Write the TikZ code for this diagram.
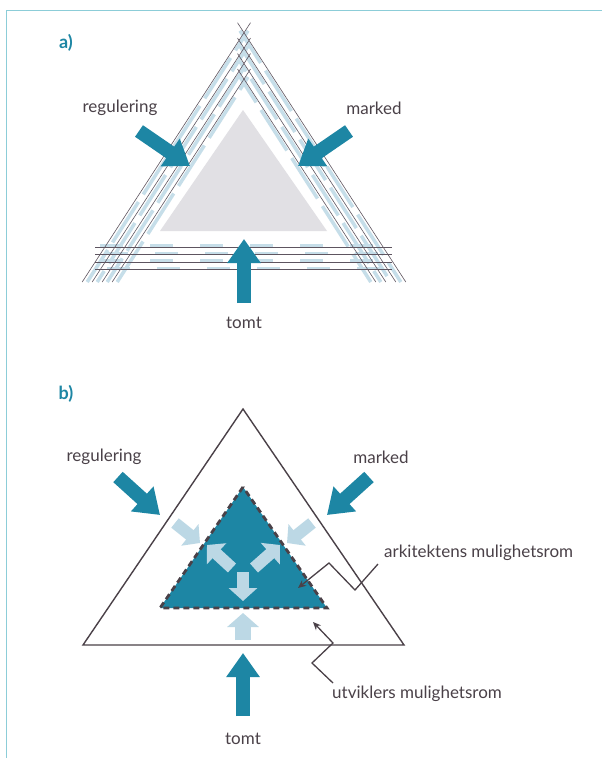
\documentclass[tikz,border=0pt]{standalone}
\usepackage{fontspec}
\setmainfont{Lato}
\usetikzlibrary{arrows.meta,calc}
\definecolor{teal1}{HTML}{1D86A4}
\definecolor{lightb}{HTML}{BCD8E5}
\definecolor{paleb}{HTML}{C6DEE9}
\definecolor{ink}{HTML}{4A4148}
\definecolor{wirec}{HTML}{5E5560}
\definecolor{greyfill}{HTML}{E1E0E4}
\definecolor{framec}{HTML}{8CCDD8}

\begin{document}
\begin{tikzpicture}[x=1pt,y=-1pt,
  lab/.style={font=\fontsize{17}{20}\selectfont, text=ink, inner sep=0pt},
  panel/.style={font=\bfseries\fontsize{18}{20}\selectfont, text=teal1, inner sep=0pt},
  bigarrow/.style={draw=teal1, line width=14pt, -{Triangle[length=24pt,width=32pt]}},
  softarrow/.style={draw=lightb, line width=12pt, -{Triangle[length=13pt,width=27pt]}},
  wire/.style={draw=wirec, line width=0.6pt},
  bluewire/.style={draw=paleb, line width=3.5pt},
  annot/.style={draw=ink, line width=1.3pt, -{Stealth[length=8pt,width=7pt]}},
]
\fill[white] (0,0) rectangle (602,758);
\useasboundingbox (0,0) rectangle (602,758);
\draw[framec, line width=1pt] (6,758) -- (6,10) -- (602,10);

% ---------- panel a: bundles of crossing lines ----------
\node[panel] (pa) at (66,43) {a)};

% light blue strokes under the thin lines
\foreach \L/\ap/\ph in {120/79/0,110/63.5/20,100/48.1/35,90/32.7/10}{
  \pgfmathsetmacro\xb{\L-7.8+5}
  \pgfmathsetmacro\xbr{488-\L+7.8-5}
  \pgfmathsetmacro\yt{\ap-2}
  \draw[bluewire, dash pattern=on 48pt off 9pt, dash phase=\ph] (\xb,282) -- (248,\yt);
  \draw[bluewire, dash pattern=on 48pt off 9pt, dash phase=\ph+15] (\xbr,282) -- (240,\yt);
}
\foreach \y/\ph in {246/45,253.5/40,261/45,268.5/38}{
  \draw[bluewire, dash pattern=on 23pt off 27pt, dash phase=\ph] (95,\y) -- (392,\y);
}
% thin lines
\foreach \L/\ap in {120/79,110/63.5,100/48.1,90/32.7}{
  \pgfmathsetmacro\xb{\L-7.8}
  \pgfmathsetmacro\xbr{488-\L+7.8}
  \pgfmathsetmacro\yt{\ap-10}
  \draw[wire] (\xb,282) -- (250.5,\yt);
  \draw[wire] (\xbr,282) -- (237.5,\yt);
}
\foreach \y in {247,254.5,262,269.5}{
  \draw[wire] (95,\y) -- (392,\y);
}

% inner grey triangle
\fill[greyfill] (243,110) -- (160,231) -- (327,231) -- cycle;

% forces
\coordinate (ra0) at (139,131); \coordinate (ra1) at (190,166);
\coordinate (ma0) at (349,131); \coordinate (ma1) at (298,166);
\coordinate (ta0) at (244,303); \coordinate (ta1) at (244,239);
\draw[bigarrow] (ra0) -- (ra1);
\draw[bigarrow] (ma0) -- (ma1);
\draw[bigarrow] (ta0) -- (ta1);
\node[lab] (rega) at (120,108) {regulering};
\node[lab] (marka) at (374,108) {marked};
\node[lab] (tomta) at (244,323) {tomt};

% ---------- panel b ----------
\node[panel] (pb) at (66,394) {b)};

\coordinate (oA) at (243,409);
\coordinate (oB) at (83,645);
\coordinate (oC) at (404,645);
\draw[ink, line width=1.4pt, line join=miter] (oA) -- (oB) -- (oC) -- cycle;

\coordinate (iA) at (243,487);
\coordinate (iB) at (160,608);
\coordinate (iC) at (327,608);
\fill[teal1] (iA) -- (iB) -- (iC) -- cycle;
\draw[ink, line width=2.8pt, dash pattern=on 6pt off 4pt] (iA) -- (iB) -- (iC) -- cycle;

% soft arrows pressing in
\coordinate (sl0) at (175,523); \coordinate (sl1) at (200,543);
\coordinate (sr0) at (312,523); \coordinate (sr1) at (287,543);
\coordinate (sb0) at (243,640); \coordinate (sb1) at (243,613);
\draw[softarrow] (sl0) -- (sl1);
\draw[softarrow] (sr0) -- (sr1);
\draw[softarrow, line width=16pt, -{Triangle[length=14pt,width=31pt]}] (sb0) -- (sb1);

% soft arrows pushing out
\coordinate (ou0) at (232,568); \coordinate (ou1) at (207,545);
\coordinate (ov0) at (254,568); \coordinate (ov1) at (280,545);
\coordinate (od0) at (243,572); \coordinate (od1) at (243,601);
\draw[softarrow, -{Triangle[length=13pt,width=28pt]}] (ou0) -- (ou1);
\draw[softarrow, -{Triangle[length=13pt,width=28pt]}] (ov0) -- (ov1);
\draw[softarrow, -{Triangle[length=13pt,width=28pt]}] (od0) -- (od1);

% forces
\coordinate (rb0) at (118,477); \coordinate (rb1) at (160,515);
\coordinate (mb0) at (369,477); \coordinate (mb1) at (327,515);
\coordinate (tb0) at (243,716); \coordinate (tb1) at (243,653);
\draw[bigarrow] (rb0) -- (rb1);
\draw[bigarrow] (mb0) -- (mb1);
\draw[bigarrow] (tb0) -- (tb1);
\node[lab] (regb) at (104,457) {regulering};
\node[lab] (markb) at (381,457) {marked};
\node[lab] (tomtb) at (243,739) {tomt};

% callouts
\node[lab, anchor=west] (ark) at (384,553) {arkitektens mulighetsrom};
\node[lab, anchor=west] (utv) at (332,694) {utviklers mulighetsrom};
\coordinate (arkT) at (298,588);
\coordinate (utvT) at (313,622);
\draw[annot] ($(ark.west)+(-6,11)$) -- (355,590) -- (329,563) -- (arkT);
\draw[annot] ($(utv.west)+(1,-11)$) -- (312,663) -- (333,643) -- (utvT);
\end{tikzpicture}
\end{document}
